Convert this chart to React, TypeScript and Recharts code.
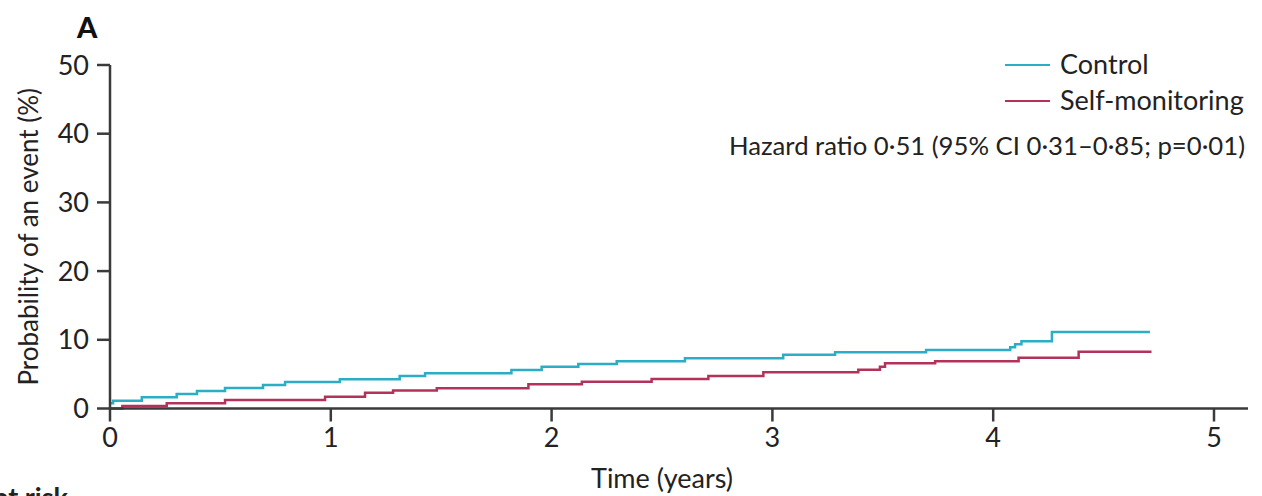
import React from 'react';
import { LineChart, Line, XAxis, YAxis } from 'recharts';

const controlTimes = [0, 0.014, 0.144, 0.302, 0.394, 0.521, 0.693, 0.793, 1.041, 1.312, 1.427, 1.818, 1.955, 2.121, 2.295, 2.604, 3.049, 3.284, 3.696, 4.077, 4.099, 4.128, 4.266, 4.71];
const controlPct = [0.76, 1.13, 1.63, 2.11, 2.55, 2.98, 3.42, 3.86, 4.25, 4.73, 5.12, 5.6, 6.08, 6.48, 6.87, 7.31, 7.83, 8.18, 8.52, 8.92, 9.36, 9.8, 11.13, 11.13];
const selfTimes = [0, 0.056, 0.257, 0.521, 0.974, 1.155, 1.282, 1.48, 1.895, 2.137, 2.453, 2.71, 2.959, 3.389, 3.487, 3.51, 3.737, 4.115, 4.387, 4.717];
const selfPct = [0, 0.36, 0.76, 1.24, 1.72, 2.28, 2.63, 2.94, 3.52, 3.9, 4.29, 4.73, 5.27, 5.65, 6.08, 6.58, 6.87, 7.38, 8.27, 8.27];
const xTicks = [0, 1, 2, 3, 4, 5];
const yTicks = [0, 10, 20, 30, 40, 50];
const seriesNames = ['Control', 'Self-monitoring'];
const hazardText = 'Hazard ratio 0·51 (95% CI 0·31–0·85; p=0·01)';

const controlData = controlTimes.map((t, i) => ({ t, v: controlPct[i] }));
const selfData = selfTimes.map((t, i) => ({ t, v: selfPct[i] }));

const BLUE = '#2badc6';
const RED = '#b3325a';
const AXIS = '#3a3a3a';
const FONT = 'Lato, sans-serif';
const FS = 27;

export default function App() {
  return (
    <div style={{ position: 'absolute', left: 0, top: 0, width: 1262, height: 496, background: '#fff' }}>
      <LineChart width={1262} height={496} margin={{ top: 65, right: 14, left: 0, bottom: 0 }}>
        <XAxis
          type="number"
          dataKey="t"
          domain={[0, 5.154]}
          ticks={xTicks}
          allowDataOverflow
          height={87.5}
          tickSize={13}
          tickMargin={6}
          stroke={AXIS}
          strokeWidth={2.5}
          tick={{ fill: '#222', fontSize: FS, fontFamily: FONT }}
          tickLine={{ stroke: AXIS, strokeWidth: 2.5 }}
          label={{ value: 'Time (years)', position: 'insideBottom', offset: 8, dx: -17, fill: '#222', fontSize: FS, fontFamily: FONT }}
        />
        <YAxis
          type="number"
          dataKey="v"
          domain={[0, 50]}
          ticks={yTicks}
          width={110}
          tickSize={13}
          tickMargin={8}
          stroke={AXIS}
          strokeWidth={2.5}
          tick={{ fill: '#222', fontSize: FS, fontFamily: FONT }}
          tickLine={{ stroke: AXIS, strokeWidth: 2.5 }}
          label={{ value: 'Probability of an event (%)', angle: -90, position: 'insideLeft', offset: 29, style: { textAnchor: 'middle' }, fill: '#222', fontSize: 26, fontFamily: FONT }}
        />
        <Line data={controlData} dataKey="v" name={seriesNames[0]} type="stepAfter" stroke={BLUE} strokeWidth={2.5} dot={false} isAnimationActive={false} />
        <Line data={selfData} dataKey="v" name={seriesNames[1]} type="stepAfter" stroke={RED} strokeWidth={2.5} dot={false} isAnimationActive={false} />
      </LineChart>
      <svg width={1262} height={496} style={{ position: 'absolute', left: 0, top: 0, pointerEvents: 'none' }}>
        <text x={77} y={38} fontFamily={FONT} fontWeight={900} fontSize={29} fill="#111">A</text>
        <line x1={1005} x2={1050} y1={65} y2={65} stroke={BLUE} strokeWidth={2} />
        <text x={1060} y={74} fontFamily={FONT} fontSize={FS} fill="#222">{seriesNames[0]}</text>
        <line x1={1005} x2={1050} y1={101} y2={101} stroke={RED} strokeWidth={2} />
        <text x={1060} y={110} fontFamily={FONT} fontSize={FS} fill="#222">{seriesNames[1]}</text>
        <text x={1245} y={155} textAnchor="end" fontFamily={FONT} fontSize={25.7} fill="#222">{hazardText}</text>
        <text x={68} y={507} textAnchor="end" fontFamily={FONT} fontWeight="bold" fontSize={FS} fill="#222">Number at risk</text>
      </svg>
    </div>
  );
}
